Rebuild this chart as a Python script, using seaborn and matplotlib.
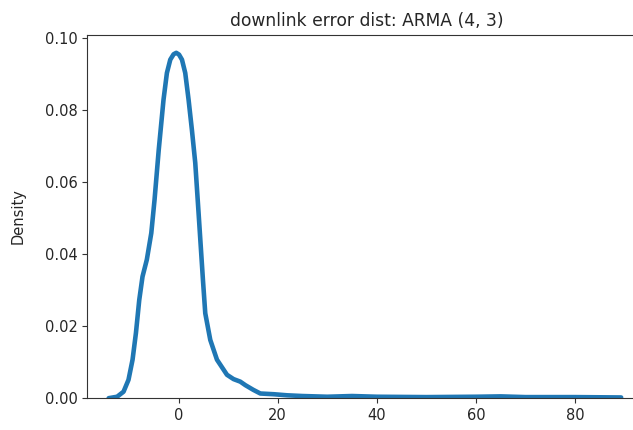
import numpy as np
import pandas as pd
import matplotlib
matplotlib.use("Agg")
import matplotlib.pyplot as plt
import seaborn as sns

# density curve
error = [-14.1, -12.4, -11.1, -10.1, -9.28, -8.6, -7.93, -7.27, -6.4, -5.5,
         -4.84, -4.0, -3.03, -2.35, -1.67, -1.0, -0.46, 0.1, 0.69, 1.35,
         2.02, 2.7, 3.37, 4.04, 4.92, 5.39, 6.4, 7.75, 9.77, 11.1,
         12.45, 13.5, 15.1, 16.5, 19.2, 21.9, 25, 30, 35, 40,
         50, 60, 65, 70, 80, 89.3]
density = [0.0, 0.0004, 0.0018, 0.0051, 0.0107, 0.0181, 0.0273, 0.0338, 0.0385, 0.0459,
           0.0552, 0.069, 0.083, 0.0904, 0.0941, 0.0956, 0.0960, 0.0955, 0.0941, 0.0904,
           0.083, 0.0745, 0.0654, 0.0515, 0.0329, 0.0236, 0.0162, 0.0107, 0.0065, 0.0053,
           0.0046, 0.0036, 0.0023, 0.0013, 0.0011, 0.0008, 0.0006, 0.0004, 0.0006, 0.0004,
           0.0003, 0.0004, 0.0005, 0.0003, 0.0003, 0.0002]

df = pd.DataFrame({"error": error, "Density": density})

fig = plt.figure(figsize=(6.33, 4.30), dpi=100)
ax = fig.add_axes([0.138, 0.074, 0.884, 0.845])

sns.lineplot(data=df, x="error", y="Density", sort=False, estimator=None,
             color="#1f77b4", linewidth=3.3, ax=ax,
             solid_joinstyle="round", solid_capstyle="round")

ax.set_xlim(-18.4, 94.5)
ax.set_ylim(0, 0.101)
ax.set_xticks([0, 20, 40, 60, 80])
ax.set_yticks([0.0, 0.02, 0.04, 0.06, 0.08, 0.10])
ax.set_yticklabels(["0.00", "0.02", "0.04", "0.06", "0.08", "0.10"])
ax.tick_params(labelsize=10.5, colors="#333333", labelcolor="#262626")
ax.set_xlabel("")
ax.set_ylabel("Density", fontsize=10.5, labelpad=14, color="#262626")
ax.set_title("downlink error dist: ARMA (4, 3)", fontsize=12.3, color="#262626")
for s in ax.spines.values():
    s.set_color("#333333")

fig.savefig("out.png", dpi=100)
